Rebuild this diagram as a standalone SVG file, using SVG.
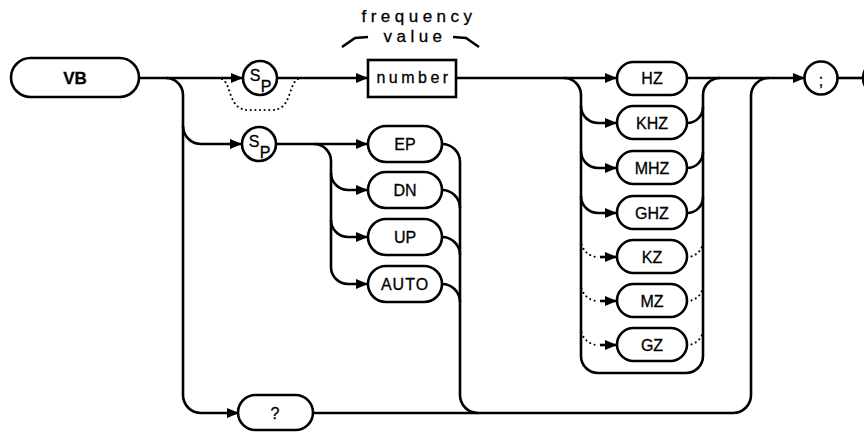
<svg xmlns="http://www.w3.org/2000/svg" width="864" height="432" viewBox="0 0 864 432">
<style>
.box{fill:#fff;stroke:#000;stroke-width:2.6}
.ln{fill:none;stroke:#000;stroke-width:2.6}
.dot{fill:none;stroke:#000;stroke-width:2;stroke-dasharray:0.1 4.5;stroke-linecap:round}
.t{font-family:"Liberation Sans",Arial,sans-serif;font-size:16px;text-anchor:middle;fill:#000;stroke:#000;stroke-width:0.3}
.b{font-weight:bold;font-size:17px}
.lab{font-family:"Liberation Sans",Arial,sans-serif;font-size:17px;letter-spacing:4.5px;text-anchor:middle;fill:#000;stroke:#000;stroke-width:0.3}
</style>
<defs>
<marker id="ar" markerUnits="userSpaceOnUse" markerWidth="14" markerHeight="12" refX="12" refY="6" orient="auto">
<path d="M0,1 L12,6 L0,11 Z" fill="#000"/>
</marker>
</defs>
<rect width="864" height="432" fill="#fff"/>
<g id="connectors">
<path class="ln" d="M139,78 H243" marker-end="url(#ar)"/>
<path class="ln" d="M277,78 H368" marker-end="url(#ar)"/>
<path class="ln" d="M456,78 H617" marker-end="url(#ar)"/>
<path class="ln" d="M687,78 H805" marker-end="url(#ar)"/>
<path class="ln" d="M838,78 H864"/>
<path class="dot" d="M222,79 C232,84 228,110 248,110 H272 C292,110 288,84 298,79"/>
<path class="ln" d="M166,78 A17,17 0 0 1 183,95 V395 A18,18 0 0 0 201,413 H239" marker-end="url(#ar)"/>
<path class="ln" d="M183,126 A18,18 0 0 0 201,144 H242" marker-end="url(#ar)"/>
<path class="ln" d="M276,144 H368" marker-end="url(#ar)"/>
<path class="ln" d="M314,144 A17,17 0 0 1 331,161 V267 A17,17 0 0 0 348,284 H368" marker-end="url(#ar)"/>
<path class="ln" d="M331,173 A17,17 0 0 0 348,190 H368" marker-end="url(#ar)"/>
<path class="ln" d="M331,220 A17,17 0 0 0 348,237 H368" marker-end="url(#ar)"/>
<path class="ln" d="M442,144 A18,18 0 0 1 460,162 V395 A18,18 0 0 0 478,413"/>
<path class="ln" d="M442,190 A18,18 0 0 1 460,208"/>
<path class="ln" d="M442,237 A18,18 0 0 1 460,255"/>
<path class="ln" d="M442,284 A18,18 0 0 1 460,302"/>
<path class="ln" d="M313,413 H733 A18,18 0 0 0 751,395 V96 A18,18 0 0 1 769,78"/>
<path class="ln" d="M564,78 A17,17 0 0 1 581,95 V356 A17,17 0 0 0 598,373 H686 A17,17 0 0 0 703,356 V95 A17,17 0 0 1 720,78"/>
<path class="ln" d="M581,106 A17,17 0 0 0 598,123 H617" marker-end="url(#ar)"/>
<path class="ln" d="M581,151 A17,17 0 0 0 598,168 H617" marker-end="url(#ar)"/>
<path class="ln" d="M581,196 A17,17 0 0 0 598,213 H617" marker-end="url(#ar)"/>
<path class="dot" d="M581,240 A17,17 0 0 0 598,257"/>
<path class="dot" d="M581,284 A17,17 0 0 0 598,301"/>
<path class="dot" d="M581,328 A17,17 0 0 0 598,345"/>
<path class="ln" d="M600,257 H617" marker-end="url(#ar)"/>
<path class="ln" d="M600,301 H617" marker-end="url(#ar)"/>
<path class="ln" d="M600,345 H617" marker-end="url(#ar)"/>
<path class="ln" d="M687,123 A16,16 0 0 0 703,107"/>
<path class="ln" d="M687,168 A16,16 0 0 0 703,152"/>
<path class="ln" d="M687,213 A16,16 0 0 0 703,197"/>
<path class="dot" d="M687,257 A16,16 0 0 0 703,241"/>
<path class="dot" d="M687,301 A16,16 0 0 0 703,285"/>
<path class="dot" d="M687,345 A16,16 0 0 0 703,329"/>
</g>
<g id="label-frequency-value">
<text class="lab" x="419" y="22">frequency</text>
<text class="lab" x="415" y="42">value</text>
<polyline class="ln" points="342,47 355,38 368,37"/>
<polyline class="ln" points="453,37 466,38 479,47"/>
</g>
<g id="node-VB"><rect class="box" x="11" y="58" width="128" height="39" rx="19.5"/><text class="t b" x="75" y="84">VB</text></g>
<g id="node-sp1"><circle class="box" cx="260" cy="78" r="17"/><text class="t" x="255" y="81" font-size="20">S</text><text class="t" x="266" y="92" font-size="18">P</text></g>
<g id="node-sp2"><circle class="box" cx="259" cy="144" r="17"/><text class="t" x="254" y="147" font-size="20">S</text><text class="t" x="265" y="158" font-size="18">P</text></g>
<g id="node-number"><rect class="box" x="368" y="60" width="88" height="37"/><text class="t" x="414" y="83" font-size="13" letter-spacing="3.5">number</text></g>
<g id="node-EP"><rect class="box" x="368" y="126" width="74" height="36" rx="18"/><text class="t" x="405" y="150">EP</text></g>
<g id="node-DN"><rect class="box" x="368" y="172" width="74" height="36" rx="18"/><text class="t" x="405" y="196">DN</text></g>
<g id="node-UP"><rect class="box" x="368" y="219" width="74" height="36" rx="18"/><text class="t" x="405" y="243">UP</text></g>
<g id="node-AUTO"><rect class="box" x="368" y="266" width="74" height="36" rx="18"/><text class="t" x="405" y="290" letter-spacing="1">AUTO</text></g>
<g id="node-HZ"><rect class="box" x="617" y="62" width="70" height="33" rx="16.5"/><text class="t" x="652" y="84">HZ</text></g>
<g id="node-KHZ"><rect class="box" x="617" y="106" width="70" height="33" rx="16.5"/><text class="t" x="652" y="129">KHZ</text></g>
<g id="node-MHZ"><rect class="box" x="617" y="151" width="70" height="33" rx="16.5"/><text class="t" x="652" y="174">MHZ</text></g>
<g id="node-GHZ"><rect class="box" x="617" y="196" width="70" height="33" rx="16.5"/><text class="t" x="652" y="219">GHZ</text></g>
<g id="node-KZ"><rect class="box" x="617" y="240" width="70" height="33" rx="16.5"/><text class="t" x="652" y="263">KZ</text></g>
<g id="node-MZ"><rect class="box" x="617" y="284" width="70" height="33" rx="16.5"/><text class="t" x="652" y="307">MZ</text></g>
<g id="node-GZ"><rect class="box" x="617" y="328" width="70" height="33" rx="16.5"/><text class="t" x="652" y="351">GZ</text></g>
<g id="node-query"><rect class="box" x="238" y="395" width="75" height="35" rx="17.5"/><text class="t" x="275" y="419" font-size="17">?</text></g>
<g id="node-semicolon"><circle class="box" cx="821" cy="78" r="16.5"/><text class="t" x="821" y="86" font-size="25">;</text></g>
<g id="node-next"><circle class="box" cx="880" cy="78" r="17"/></g>
</svg>
